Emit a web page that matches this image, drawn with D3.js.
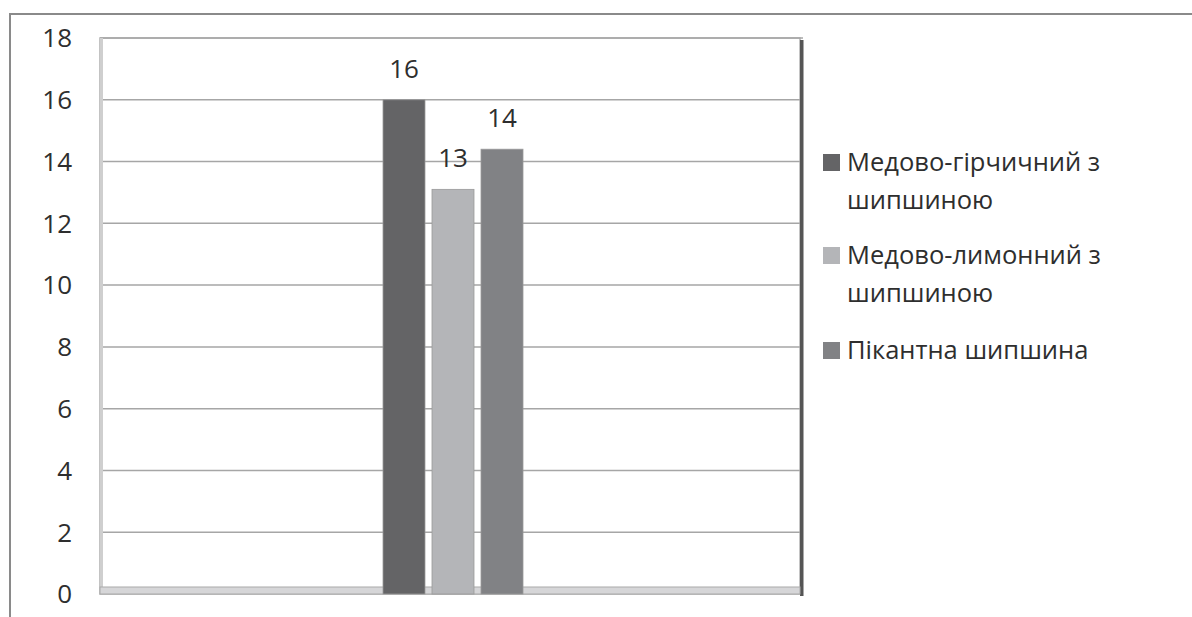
<!DOCTYPE html>
<html>
<head>
<meta charset="utf-8">
<script src="https://cdn.jsdelivr.net/npm/d3@7"></script>
<style>
  body { margin: 0; background: #fff; }
  text { font-family: "Open Sans", "DejaVu Sans", sans-serif; fill: #2e2e2e; }
</style>
</head>
<body>
<div id="chart"></div>
<script>
// data
const categories = [""];
const series = ["Медово-гірчичний з шипшиною", "Медово-лимонний з шипшиною", "Пікантна шипшина"];
const legendLines = [["Медово-гірчичний з", "шипшиною"], ["Медово-лимонний з", "шипшиною"], ["Пікантна шипшина"]];
const values = [16, 13.1, 14.4];
const yTicks = [0, 2, 4, 6, 8, 10, 12, 14, 16, 18];
const colors = ["#646466", "#b4b5b8", "#818285"];

const width = 1192, height = 617,
  margin = {top: 38, right: 392, bottom: 23, left: 100};

const svg = d3.select("#chart")
  .append("svg")
  .attr("width", width)
  .attr("height", height);

// outer chart frame (only top and left edges are visible)
svg.append("path")
  .attr("d", `M10,${height} L10,14 L${width},14`)
  .attr("fill", "none")
  .attr("stroke", "#8a8a8a")
  .attr("stroke-width", 2);

let y = d3.scaleLinear([0, 18], [height - margin.bottom, margin.top]);

let x = d3.scaleBand(categories, [margin.left + 3, width - margin.right + 3])
  .paddingInner(0)
  .paddingOuter(2);

let xs = d3.scaleBand(series, [0, x.bandwidth()])
  .paddingInner(0.143);

const x0 = margin.left, x1 = width - margin.right;
const yBot = y(0), yTop = y(18);

// back wall
svg.append("rect")
  .attr("x", x0).attr("y", yTop)
  .attr("width", x1 - x0).attr("height", yBot - yTop)
  .attr("fill", "#fff")
  .attr("stroke", "#b0b0b0")
  .attr("stroke-width", 1.5);

// gridlines
svg.append("g")
  .selectAll("line")
  .data(yTicks.filter(d => d > 0))
  .join("line")
  .attr("x1", x0).attr("x2", x1 + 3)
  .attr("y1", d => y(d)).attr("y2", d => y(d))
  .attr("stroke", "#a6a6a6")
  .attr("stroke-width", 1.5);

// left wall shadow
svg.append("rect")
  .attr("x", x0).attr("y", yTop)
  .attr("width", 3).attr("height", yBot - yTop)
  .attr("fill", "#cfcfcf");

// right wall dark edge
svg.append("rect")
  .attr("x", x1).attr("y", yTop + 2)
  .attr("width", 3.5).attr("height", yBot - yTop)
  .attr("fill", "#555");

// floor
svg.append("rect")
  .attr("x", x0).attr("y", yBot - 7)
  .attr("width", x1 - x0).attr("height", 7)
  .attr("fill", "#d6d6d8")
  .attr("stroke", "#aaa")
  .attr("stroke-width", 1);

// y axis labels
svg.append("g")
  .selectAll("text")
  .data(yTicks)
  .join("text")
  .attr("x", 72)
  .attr("y", d => y(d))
  .attr("dy", "0.36em")
  .attr("text-anchor", "end")
  .style("font-size", "26px")
  .text(d => d);

// bars
const bars = svg.append("g")
  .selectAll("g")
  .data(series.map((s, i) => ({s, v: values[i], c: colors[i]})))
  .join("g");

bars.append("rect")
  .attr("x", d => x(categories[0]) + xs(d.s))
  .attr("y", d => y(d.v))
  .attr("width", xs.bandwidth())
  .attr("height", d => y(0) - y(d.v))
  .attr("fill", d => d.c)
  .attr("stroke", "#9a9a9a")
  .attr("stroke-width", 0.8);

bars.append("text")
  .attr("x", d => x(categories[0]) + xs(d.s) + xs.bandwidth() / 2)
  .attr("y", d => y(d.v) - 22)
  .attr("text-anchor", "middle")
  .style("font-size", "26px")
  .text(d => d3.format(".0f")(d.v));

// legend
const legendTop = [162, 255, 350];
const legend = svg.selectAll(".legend-group")
  .data(series)
  .join("g")
  .attr("class", "legend-group");

legend.append("rect")
  .attr("x", 823)
  .attr("y", (d, i) => legendTop[i] - 8)
  .attr("width", 17)
  .attr("height", 17)
  .attr("fill", (d, i) => colors[i]);

legend.append("text")
  .attr("x", 847)
  .attr("y", (d, i) => legendTop[i])
  .style("font-size", "25.5px")
  .selectAll("tspan")
  .data((d, i) => legendLines[i])
  .join("tspan")
  .attr("x", 847)
  .attr("dy", (d, j) => j === 0 ? "0.36em" : "1.49em")
  .text(d => d);
</script>
</body>
</html>
